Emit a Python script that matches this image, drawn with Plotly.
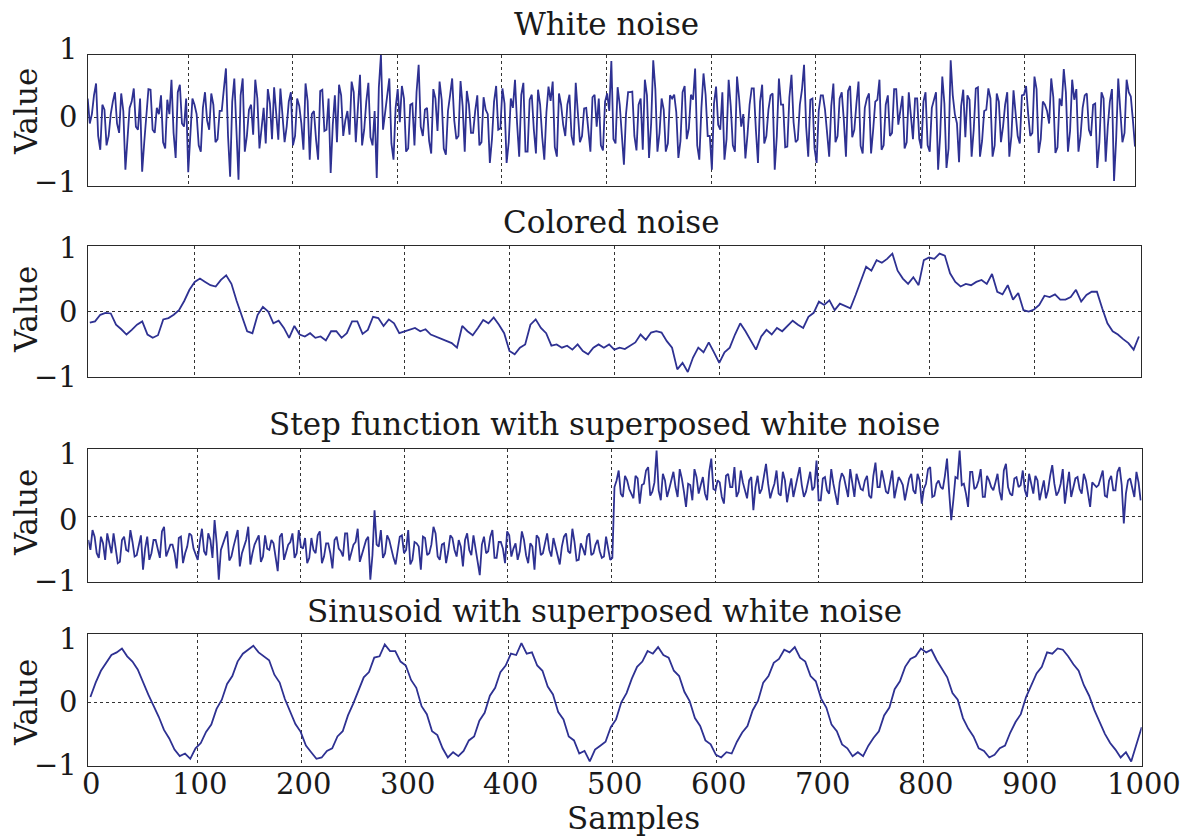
import plotly.graph_objects as go

W, H = 1190, 839
FONT = "DejaVu Serif"
LINE = "#2e3192"
INK = "#1a1a1a"
FRAME = "#2a2a2a"

titles = ["White noise", "Colored noise",
          "Step function with superposed white noise",
          "Sinusoid with superposed white noise"]
y_label = "Value"
x_label = "Samples"
y_tick_labels = ["1", "0", "\u22121"]
x_tick_values = [0, 100, 200, 300, 400, 500, 600, 700, 800, 900, 1000]
x_tick_labels = ["0", "100", "200", "300", "400", "500", "600", "700", "800", "900", "1000"]
grid_values = [100, 200, 300, 400, 500, 600, 700, 800, 900]

# sample spacing of the hand-read series
dense_step = 2      # white noise / step function: samples 0,4,8,... and 2,6,10,... interleaved
colored_step = 5
sinus_step = 5

# white noise at samples 0, 4, 8, ..., 1000
white_noise_a = [
    0.30, 0.05, 0.54, -0.52, 0.12, -0.30, 0.25, -0.10, 0.38, -0.84,
    0.15, 0.46, -0.20, -0.87, 0.10, 0.44, -0.25, 0.05, -0.40, 0.28,
    0.60, -0.65, 0.52, -0.15, -0.88, 0.30, 0.05, -0.55, 0.40, -0.20,
    0.20, -0.35, 0.10, 0.78, -0.95, 0.62, -1.00, 0.62, -0.30, 0.20,
    0.60, -0.50, 0.15, 0.45, -0.35, 0.08, 0.46, -0.40, 0.25, -0.45,
    0.30, -0.10, 0.54, -0.68, 0.10, -0.68, 0.44, -0.20, -0.89, 0.35,
    0.52, -0.30, 0.10, 0.57, -0.40, 0.68, -0.20, 0.55, -0.45, -0.97,
    1.00, 0.08, 0.62, -0.68, 0.45, 0.50, -0.55, 0.20, -0.45, 0.84,
    -0.30, 0.15, -0.58, 0.30, 0.57, -0.50, 0.10, 0.62, -0.35, 0.58,
    -0.55, 0.20, -0.25, 0.35, -0.40, 0.12, -0.73, 0.25, -0.20, 0.46,
    -0.73, 0.30, 0.60, -0.63, 0.55, -0.55, 0.36, -0.58, 0.20, -0.68,
    0.49, 0.57, -0.63, 0.20, -0.30, 0.36, -0.45, 0.10, -0.30, 0.15,
    -0.55, 0.36, 0.30, -0.53, 0.38, 0.90, -0.42, 0.20, -0.76, 0.40,
    0.41, -0.53, 0.30, 0.60, -0.65, 0.91, -0.55, 0.30, -0.55, 0.35,
    0.36, -0.65, 0.40, -0.35, 0.36, 0.78, -0.68, 0.70, -0.30, -0.84,
    0.49, -0.20, -0.68, 0.60, -0.45, 0.65, -0.15, -0.66, 0.20, 0.46,
    -0.73, 0.52, -0.30, 0.35, -0.84, 0.62, 0.20, -0.47, 0.68, -0.40,
    0.20, 0.84, -0.63, 0.30, -0.73, 0.35, 0.12, -0.63, 0.54, -0.30,
    0.40, -0.63, 0.50, -0.20, 0.57, -0.58, 0.30, -0.58, 0.25, 0.60,
    -0.45, 0.35, -0.25, 0.45, 0.10, -0.50, 0.40, -0.35, 0.30, -0.50,
    0.40, -0.55, 0.30, -0.84, 0.65, -0.81, 0.91, 0.05, -0.72, 0.44,
    0.35, -0.63, 0.46, -0.63, 0.10, 0.46, -0.63, 0.38, -0.40, 0.20,
    -0.63, 0.43, -0.30, 0.35, 0.50, -0.30, 0.65, -0.57, 0.25, 0.10,
    0.62, -0.57, 0.30, 0.77, -0.55, 0.60, 0.45, -0.30, 0.35, -0.20,
    0.20, -0.81, 0.40, -0.71, 0.25, -1.02, 0.62, -0.40, 0.60, 0.33, -0.47,
]
# white noise at samples 2, 6, 10, ..., 998
white_noise_b = [
    -0.10, 0.35, -0.30, 0.20, -0.45, 0.05, 0.40, -0.25, 0.10, -0.35,
    0.25, -0.15, 0.30, -0.40, 0.45, -0.20, 0.15, 0.35, -0.50, 0.05,
    -0.25, 0.40, -0.10, 0.30, -0.35, 0.20, -0.45, 0.15, -0.05, 0.38,
    -0.40, 0.10, 0.45, -0.30, 0.25, -0.20, 0.35, -0.55, 0.12, -0.28,
    0.30, -0.18, -0.42, 0.22, 0.48, -0.36, 0.08, -0.15, 0.40, -0.30,
    0.18, -0.52, 0.26, 0.05, -0.35, 0.42, -0.22, 0.30, -0.12, -0.40,
    0.35, -0.05, -0.28, 0.40, 0.15, -0.45, 0.25, -0.32, 0.10, 0.48,
    -0.20, 0.38, -0.42, 0.15, -0.08, 0.30, -0.50, 0.22, 0.40, -0.15,
    0.12, -0.38, 0.45, -0.22, 0.28, -0.60, 0.35, -0.05, -0.30, 0.18,
    0.42, -0.25, 0.10, -0.45, 0.32, 0.05, -0.35, 0.50, -0.18, 0.22,
    -0.40, 0.15, -0.10, 0.36, -0.55, 0.28, -0.20, 0.44, -0.32, 0.08,
    0.26, -0.48, 0.38, -0.12, 0.20, -0.30, 0.55, -0.40, 0.14, -0.22,
    0.32, -0.15, -0.45, 0.25, 0.10, -0.35, 0.48, -0.28, 0.05, 0.40,
    -0.30, 0.20, -0.52, 0.35, -0.10, 0.45, -0.25, 0.12, -0.42, 0.30,
    0.08, -0.38, 0.50, -0.18, 0.28, -0.45, 0.15, 0.36, -0.30, 0.22,
    -0.12, 0.40, -0.35, 0.18, -0.55, 0.30, 0.05, -0.28, 0.46, -0.20,
    0.25, -0.42, 0.12, 0.38, -0.30, 0.20, -0.48, 0.32, -0.08, -0.36,
    0.44, -0.15, 0.28, -0.50, 0.10, 0.35, -0.25, 0.18, -0.40, 0.30,
    -0.05, 0.42, -0.32, 0.22, -0.46, 0.15, 0.38, -0.20, 0.28, -0.52,
    0.20, -0.30, 0.45, -0.12, 0.34, -0.40, 0.08, 0.30, -0.35, 0.25,
    -0.45, 0.15, 0.40, -0.28, 0.22, -0.50, 0.35, -0.10, 0.18, -0.32,
    0.28, -0.20, 0.48, -0.38, 0.12, 0.30, -0.45, 0.25, -0.15, 0.40,
    -0.30, 0.10, -0.42, 0.36, 0.05, -0.25, 0.45, -0.35, 0.20, -0.10,
    0.32, -0.48, 0.18, 0.40, -0.22, 0.28, -0.55, 0.15, 0.38, -0.30,
    0.22, -0.40, 0.30, -0.15, 0.45, -0.35, 0.10, -0.25, 0.40, -0.05,
]

# colored noise at samples 0, 5, 10, ..., 1000
colored_noise = [
    -0.17, -0.15, -0.05, -0.02, -0.03, -0.20, -0.27, -0.35, -0.28, -0.20,
    -0.15, -0.35, -0.40, -0.36, -0.12, -0.10, -0.05, 0.02, 0.16, 0.33,
    0.45, 0.50, 0.45, 0.40, 0.38, 0.48, 0.55, 0.42, 0.16, -0.08,
    -0.30, -0.33, -0.05, 0.07, 0.00, -0.18, -0.14, -0.25, -0.40, -0.22,
    -0.35, -0.38, -0.33, -0.40, -0.38, -0.44, -0.30, -0.30, -0.40, -0.33,
    -0.15, -0.15, -0.34, -0.28, -0.08, -0.10, -0.22, -0.12, -0.18, -0.33,
    -0.30, -0.28, -0.25, -0.30, -0.27, -0.35, -0.38, -0.42, -0.44, -0.48,
    -0.55, -0.22, -0.30, -0.36, -0.25, -0.13, -0.18, -0.09, -0.20, -0.33,
    -0.60, -0.65, -0.55, -0.50, -0.20, -0.12, -0.25, -0.33, -0.52, -0.50,
    -0.55, -0.52, -0.58, -0.50, -0.60, -0.65, -0.55, -0.50, -0.55, -0.50,
    -0.58, -0.55, -0.57, -0.52, -0.47, -0.35, -0.43, -0.32, -0.30, -0.32,
    -0.45, -0.55, -0.88, -0.78, -0.92, -0.70, -0.55, -0.62, -0.47, -0.62,
    -0.78, -0.62, -0.55, -0.35, -0.18, -0.30, -0.45, -0.58, -0.38, -0.28,
    -0.35, -0.25, -0.30, -0.22, -0.14, -0.20, -0.25, -0.08, -0.02, 0.15,
    0.10, 0.17, 0.02, 0.12, 0.08, 0.05, 0.25, 0.45, 0.68, 0.62,
    0.78, 0.74, 0.80, 0.88, 0.62, 0.50, 0.42, 0.52, 0.40, 0.78,
    0.82, 0.80, 0.88, 0.85, 0.58, 0.45, 0.38, 0.42, 0.40, 0.45,
    0.48, 0.42, 0.57, 0.30, 0.26, 0.40, 0.18, 0.28, 0.02, 0.00,
    0.03, 0.10, 0.24, 0.22, 0.26, 0.18, 0.18, 0.22, 0.33, 0.15,
    0.25, 0.30, 0.30, 0.05, -0.18, -0.30, -0.35, -0.42, -0.48, -0.58,
    -0.38,
]

# step function + noise at samples 0, 4, 8, ..., 1000
step_noise_a = [
    -0.35, -0.20, -0.55, -0.30, -0.65, -0.40, -0.25, -0.70, -0.35, -0.50,
    -0.20, -0.60, -0.45, -0.80, -0.30, -0.55, -0.35, -0.62, -0.15, -0.50,
    -0.42, -0.78, -0.30, -0.55, -0.25, -0.48, -0.65, -0.18, -0.58, -0.35,
    -0.05, -0.95, -0.40, -0.22, -0.60, -0.30, -0.75, -0.45, -0.15, -0.55,
    -0.35, -0.68, -0.28, -0.50, -0.40, -0.82, -0.25, -0.55, -0.38, -0.62,
    -0.20, -0.48, -0.70, -0.32, -0.55, -0.22, -0.60, -0.40, -0.78, -0.30,
    -0.52, -0.25, -0.66, -0.42, -0.18, -0.58, -0.35, -0.95, 0.10, -0.45,
    -0.62, -0.28, -0.50, -0.72, -0.30, -0.55, -0.20, -0.65, -0.40, -0.80,
    -0.32, -0.55, -0.15, -0.60, -0.42, -0.70, -0.28, -0.50, -0.35, -0.75,
    -0.25, -0.58, -0.45, -0.88, -0.30, -0.52, -0.20, -0.62, -0.38, -0.70,
    -0.28, -0.48, -0.65, -0.22, -0.58, -0.40, -0.80, -0.32, -0.55, -0.25,
    -0.60, -0.45, -0.72, -0.30, -0.52, -0.18, -0.66, -0.40, -0.58, -0.25,
    -0.55, -0.35, -0.62, -0.30, -0.65,
    0.45, 0.70, 0.30, 0.55, 0.35, 0.62, 0.20, 0.50, 0.75, 0.38,
    1.00, 0.25, 0.55, 0.42, 0.68, 0.30, 0.58, 0.15, 0.48, 0.72,
    0.35, 0.60, 0.25, 0.88, 0.40, 0.52, 0.20, 0.65, 0.45, 0.30,
    0.70, 0.38, 0.55, 0.10, 0.62, 0.42, 0.80, 0.28, 0.50, 0.35,
    0.68, 0.22, 0.58, 0.45, 0.75, 0.30, 0.52, 0.40, 0.85, 0.25,
    0.60, 0.35, 0.50, 0.18, 0.66, 0.42, 0.72, 0.30, 0.55, 0.40,
    0.62, 0.28, 0.82, 0.45, 0.55, 0.35, 0.70, 0.45, 0.55, 0.25,
    0.58, 0.40, 0.65, 0.20, 0.50, 0.75, 0.32, 0.55, 0.42, 0.88,
    -0.05, 0.60, 1.00, 0.50, 0.15, 0.68, 0.45, 0.72, 0.30, 0.55,
    0.40, 0.65, 0.25, 0.80, 0.35, 0.58, 0.45, 0.70, 0.30, 0.52,
    0.62, 0.25, 0.55, 0.40, 0.78, 0.32, 0.50, 0.20, 0.68, 0.42,
    0.60, 0.35, 0.55, 0.15, 0.48, 0.48, 0.70, 0.30, 0.62, 0.40,
    0.75, -0.10, 0.55, 0.45, 0.68, 0.25,
]
# step function + noise at samples 2, 6, 10, ..., 998
step_noise_b = [
    -0.50, -0.30, -0.62, -0.40, -0.25, -0.55, -0.45, -0.68, -0.30, -0.52,
    -0.38, -0.58, -0.28, -0.48, -0.65, -0.35, -0.50, -0.22, -0.60, -0.42,
    -0.55, -0.32, -0.70, -0.45, -0.28, -0.58, -0.38, -0.52, -0.25, -0.62,
    -0.40, -0.50, -0.30, -0.66, -0.45, -0.20, -0.55, -0.35, -0.72, -0.42,
    -0.28, -0.60, -0.48, -0.35, -0.58, -0.30, -0.65, -0.42, -0.25, -0.55,
    -0.45, -0.32, -0.62, -0.50, -0.28, -0.70, -0.40, -0.55, -0.35, -0.48,
    -0.60, -0.25, -0.52, -0.38, -0.68, -0.45, -0.30, -0.58, -0.42, -0.20,
    -0.55, -0.35, -0.62, -0.48, -0.28, -0.50, -0.72, -0.38, -0.45, -0.30,
    -0.58, -0.42, -0.25, -0.65, -0.40, -0.52, -0.32, -0.60, -0.45, -0.35,
    -0.50, -0.28, -0.68, -0.42, -0.55, -0.30, -0.62, -0.38, -0.48, -0.22,
    -0.60, -0.40, -0.52, -0.35, -0.70, -0.45, -0.28, -0.58, -0.42, -0.50,
    -0.32, -0.62, -0.45, -0.25, -0.55, -0.38, -0.65, -0.48, -0.30, -0.58,
    -0.42, -0.52, -0.60, -0.48, -0.62,
    0.55, 0.35, 0.62, 0.42, 0.28, 0.58, 0.48, 0.70, 0.32, 0.52,
    0.40, 0.65, 0.30, 0.55, 0.45, 0.72, 0.38, 0.50, 0.25, 0.60,
    0.48, 0.35, 0.68, 0.42, 0.55, 0.30, 0.62, 0.45, 0.75, 0.38,
    0.52, 0.28, 0.60, 0.45, 0.35, 0.65, 0.50, 0.40, 0.70, 0.32,
    0.55, 0.42, 0.30, 0.62, 0.48, 0.38, 0.68, 0.45, 0.25, 0.58,
    0.40, 0.72, 0.35, 0.52, 0.60, 0.30, 0.48, 0.65, 0.42, 0.55,
    0.32, 0.62, 0.45, 0.70, 0.38, 0.52, 0.28, 0.60, 0.48, 0.40,
    0.65, 0.35, 0.55, 0.42, 0.72, 0.30, 0.50, 0.45, 0.62, 0.38,
    0.25, 0.58, 0.48, 0.35, 0.68, 0.42, 0.55, 0.30, 0.62, 0.45,
    0.52, 0.38, 0.70, 0.45, 0.32, 0.60, 0.48, 0.40, 0.65, 0.35,
    0.55, 0.42, 0.28, 0.62, 0.50, 0.38, 0.72, 0.45, 0.30, 0.58,
    0.42, 0.65, 0.35, 0.52, 0.45, 0.60, 0.32, 0.55, 0.40, 0.68,
    0.48, 0.35, 0.58, 0.30, 0.52,
]

# sinusoid + noise at samples 0, 5, 10, ..., 1000
sinusoid_noise = [
    0.08, 0.30, 0.48, 0.60, 0.72, 0.76, 0.82, 0.70, 0.62, 0.50,
    0.30, 0.12, -0.05, -0.22, -0.42, -0.55, -0.72, -0.82, -0.78, -0.86,
    -0.70, -0.62, -0.45, -0.34, -0.10, 0.04, 0.28, 0.40, 0.62, 0.74,
    0.80, 0.86, 0.76, 0.70, 0.64, 0.42, 0.30, 0.05, -0.14, -0.33,
    -0.45, -0.66, -0.76, -0.86, -0.84, -0.74, -0.70, -0.52, -0.44, -0.20,
    -0.02,
    0.18, 0.38, 0.46, 0.68, 0.70, 0.88, 0.78, 0.78, 0.62, 0.56,
    0.34, 0.22, -0.06, -0.18, -0.44, -0.50, -0.70, -0.84, -0.76, -0.82,
    -0.74, -0.58, -0.52, -0.28, -0.16, 0.10, 0.22, 0.46, 0.56, 0.74,
    0.72, 0.90, 0.74, 0.76, 0.56, 0.48, 0.24, 0.12, -0.15, -0.26,
    -0.52, -0.58, -0.78, -0.74, -0.90, -0.72, -0.66, -0.60, -0.38, -0.26,
    0.00,
    0.14, 0.36, 0.54, 0.62, 0.78, 0.74, 0.84, 0.72, 0.68, 0.48,
    0.40, 0.16, 0.02, -0.24, -0.36, -0.58, -0.64, -0.80, -0.84, -0.76,
    -0.78, -0.60, -0.46, -0.36, -0.12, 0.02, 0.30, 0.40, 0.60, 0.66,
    0.80, 0.76, 0.84, 0.68, 0.62, 0.40, 0.32, 0.06, -0.08, -0.34,
    -0.44, -0.64, -0.70, -0.82, -0.76, -0.82, -0.66, -0.54, -0.44, -0.20,
    -0.08,
    0.20, 0.32, 0.54, 0.66, 0.70, 0.82, 0.76, 0.80, 0.64, 0.50,
    0.38, 0.14, 0.04, -0.24, -0.40, -0.52, -0.70, -0.74, -0.84, -0.80,
    -0.70, -0.66, -0.46, -0.30, -0.18, 0.08, 0.26, 0.44, 0.54, 0.76,
    0.74, 0.82, 0.80, 0.70, 0.58, 0.48, 0.26, 0.10, -0.12, -0.30,
    -0.48, -0.62, -0.72, -0.84, -0.76, -0.90, -0.64, -0.38,
]


def interleave(a, b):
    out = []
    for k in range(len(a)):
        out.append(a[k])
        if k < len(b):
            out.append(b[k])
    return out


white_noise = interleave(white_noise_a, white_noise_b)
step_noise = interleave(step_noise_a, step_noise_b)

series = [(white_noise, dense_step), (colored_noise, colored_step),
          (step_noise, dense_step), (sinusoid_noise, sinus_step)]

# layout geometry (pixels): box = (left, top, right, bottom)
panels = [
    dict(box=(87.7, 54.7, 1135.0, 186.0), grid_range=(3.8, 1005.5), data_range=(0, 1000),
         y_range=(-1.1, 1.0), title_x=606, title_y=24, label_y=112, tick_y=(49, 117, 182)),
    dict(box=(87.7, 245.7, 1141.0, 377.3), grid_range=(-1.5, 1001.2), data_range=(-2, 1002),
         y_range=(-1.0, 1.0), title_x=611, title_y=222, label_y=310, tick_y=(248, 312, 377)),
    dict(box=(88.3, 449.3, 1141.7, 581.7), grid_range=(-5.3, 1012.0), data_range=(0, 1001),
         y_range=(-0.98, 1.02), title_x=604, title_y=424, label_y=513, tick_y=(454, 520, 581)),
    dict(box=(88.3, 634.3, 1141.7, 765.7), grid_range=(-5.4, 1009.9), data_range=(-2, 1000),
         y_range=(-0.965, 1.035), title_x=604, title_y=611, label_y=703, tick_y=(639, 702, 765)),
]


def px(x):
    return x / W


def py(y):
    return 1 - y / H


fig = go.Figure()
layout = dict(
    width=W, height=H, margin=dict(l=0, r=0, t=0, b=0),
    paper_bgcolor="white", plot_bgcolor="white", showlegend=False,
    font=dict(family=FONT, color=INK),
)
annotations = []

for i, p in enumerate(panels):
    gx = 2 * i + 1
    dx = 2 * i + 2
    yi = i + 1
    gx_id = "x" if gx == 1 else f"x{gx}"
    dx_id = f"x{dx}"
    y_id = "y" if yi == 1 else f"y{yi}"
    left, top, right, bottom = p["box"]
    r0, r1 = p["grid_range"]

    layout["xaxis" if gx == 1 else f"xaxis{gx}"] = dict(
        domain=[px(left), px(right)], range=[r0, r1], anchor=y_id,
        tickmode="array", tickvals=grid_values, showticklabels=False, ticks="",
        showgrid=True, gridcolor="#333333", gridwidth=1, griddash="3px,3px",
        zeroline=False, showline=True, mirror=True, linecolor=FRAME, linewidth=1.3,
        fixedrange=True,
    )
    layout[f"xaxis{dx}"] = dict(
        overlaying=gx_id, anchor=y_id, range=list(p["data_range"]), visible=False,
        showgrid=False, zeroline=False, fixedrange=True,
    )
    layout["yaxis" if yi == 1 else f"yaxis{yi}"] = dict(
        domain=[py(bottom), py(top)], range=list(p["y_range"]), anchor=gx_id,
        tickmode="array", tickvals=[0], showticklabels=False, ticks="",
        showgrid=True, gridcolor="#333333", gridwidth=1, griddash="3px,3px",
        zeroline=False, showline=True, mirror=True, linecolor=FRAME, linewidth=1.3,
        fixedrange=True,
    )

    vals, step = series[i]
    xs = [k * step for k in range(len(vals))]
    fig.add_trace(go.Scatter(x=xs, y=vals, xaxis=dx_id, yaxis=y_id, mode="lines",
                             line=dict(color=LINE, width=1.8), hoverinfo="skip"))

    # title (referenced to the panel's grid axis so that subplot is drawn)
    title_val = r0 + (p["title_x"] - left) / (right - left) * (r1 - r0)
    annotations.append(dict(text=titles[i], xref=gx_id, yref="paper",
                            x=title_val, y=py(p["title_y"]),
                            xanchor="center", yanchor="middle", showarrow=False,
                            font=dict(family=FONT, size=31, color=INK)))
    # y label
    annotations.append(dict(text=y_label, xref="paper", yref="paper",
                            x=px(26), y=py(p["label_y"]), textangle=-90,
                            xanchor="center", yanchor="middle", showarrow=False,
                            font=dict(family=FONT, size=31, color=INK)))
    # y tick labels
    for lab, ty in zip(y_tick_labels, p["tick_y"]):
        annotations.append(dict(text=lab, xref="paper", yref="paper",
                                x=px(79), y=py(ty), xanchor="right", yanchor="middle",
                                showarrow=False, font=dict(family=FONT, size=29, color=INK)))

# bottom tick labels (on the last panel's grid axis)
x_shift = {0: -3, 1000: 13}
for v, lab in zip(x_tick_values, x_tick_labels):
    annotations.append(dict(text=lab, xref="x7", yref="paper", x=v, y=py(784),
                            xanchor="center", yanchor="middle", xshift=x_shift.get(v, 2),
                            showarrow=False, font=dict(family=FONT, size=29, color=INK)))

annotations.append(dict(text=x_label, xref="paper", yref="paper", x=px(633), y=py(818),
                        xanchor="center", yanchor="middle", showarrow=False,
                        font=dict(family=FONT, size=31, color=INK)))

layout["annotations"] = annotations
fig.update_layout(**layout)
fig.write_html("out.html")
